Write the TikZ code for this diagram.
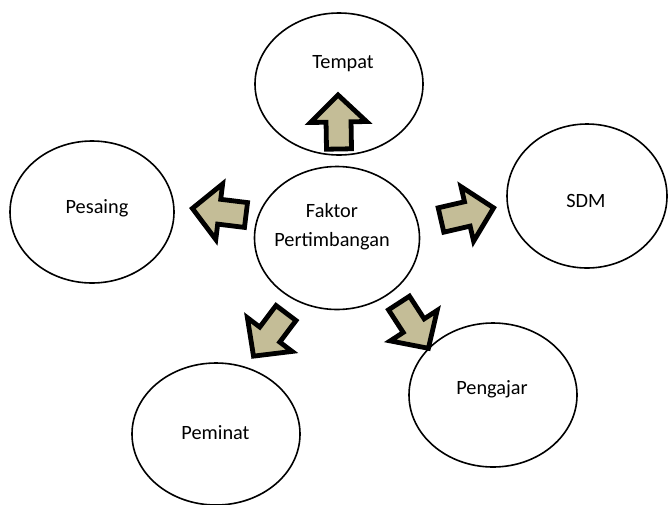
\documentclass[tikz,border=0pt]{standalone}
\usepackage{fontspec}
\setmainfont{Carlito}
\usetikzlibrary{shapes.geometric}
\definecolor{arrowtan}{HTML}{C4BD97}
\begin{document}
\begin{tikzpicture}[x=1pt,y=1pt,
  bubble/.style={ellipse, draw=black, line width=1.6pt, fill=white, inner sep=0pt},
  lbl/.style={font=\fontsize{20.3}{29}\selectfont, text=black, inner sep=0pt},
  arrowlook/.style={draw=black, fill=arrowtan, line width=4.8pt, line join=miter},
  blockarrow/.pic={\draw[arrowlook] (0,-12.5) -- (27,-12.5) -- (27,-28) -- (54,0) -- (27,28) -- (27,12.5) -- (0,12.5) -- cycle;}]
\useasboundingbox (0,0) rectangle (668,-504);
% bubbles
\node[bubble, minimum width=168, minimum height=142] (tempat) at (339,-84) {};
\node[bubble, minimum width=164, minimum height=142] (pesaing) at (92,-212) {};
\node[bubble, minimum width=160, minimum height=144] (sdm) at (587,-196) {};
\node[bubble, minimum width=168, minimum height=144] (pengajar) at (493,-395) {};
\node[bubble, minimum width=168, minimum height=142] (peminat) at (216,-434) {};
\node[bubble, minimum width=165, minimum height=143] (faktor) at (337,-238) {};
% labels
\node[lbl, anchor=base] (tempatlbl) at (343,-68) {Tempat};
\node[lbl, anchor=base] (pesainglbl) at (97,-213) {Pesaing};
\node[lbl, anchor=base] (sdmlbl) at (586,-207) {SDM};
\node[lbl, anchor=base] (pengajarlbl) at (492,-394) {Pengajar};
\node[lbl, anchor=base] (peminatlbl) at (215.5,-439) {Peminat};
\node[lbl, anchor=base] (faktorlbl1) at (332,-217) {Faktor};
\node[lbl, anchor=base] (faktorlbl2) at (332,-246) {Pertimbangan};
% block arrows
\pic[rotate=91] at (339,-149) {blockarrow};
\pic[rotate=173] at (246,-215) {blockarrow};
\pic[rotate=13] at (441,-220) {blockarrow};
\pic[rotate=233] at (286,-313) {blockarrow};
\pic[rotate=303] at (399,-303) {blockarrow};
\end{tikzpicture}
\end{document}
